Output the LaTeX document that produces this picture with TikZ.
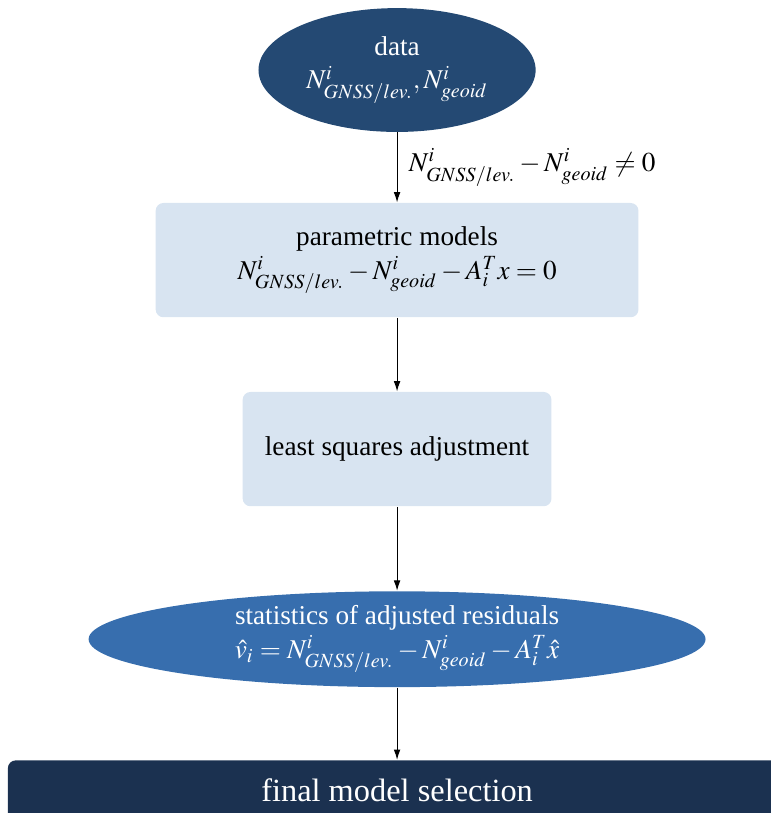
\documentclass[tikz,border=0pt]{standalone}
\usepackage{mathptmx}
\usepackage[no-math]{fontspec}
\setmainfont{Liberation Serif}
\usepackage{amsmath}
\usepackage{tikz}
\usetikzlibrary{shapes.geometric, arrows.meta, positioning}
\definecolor{mynavy}{RGB}{36,73,115}
\definecolor{mylight}{RGB}{216,228,241}
\definecolor{mymid}{RGB}{55,110,174}
\definecolor{mydeep}{RGB}{27,49,80}
\tikzset{
  dataell/.style={ellipse, fill=mynavy, text=white, inner sep=0pt,
    minimum width=3.76cm, minimum height=1.68cm, align=center,
    font=\fontsize{10.5}{13}\selectfont},
  procbox/.style={rectangle, fill=mylight, align=center,
    minimum height=1.55cm, rounded corners=3pt,
    font=\fontsize{10.5}{13}\selectfont},
  resell/.style={ellipse, fill=mymid, text=white, inner sep=0pt,
    minimum width=8.37cm, minimum height=1.30cm, align=center,
    font=\fontsize{10.5}{13}\selectfont},
  finalbox/.style={rectangle, fill=mydeep, text=white,
    font=\fontsize{12.5}{15}\selectfont,
    minimum width=10.56cm, minimum height=0.81cm, rounded corners=3pt},
  arrow/.style={-{Latex[length=4pt,width=2.6pt]}, thin, color=black}
}

\begin{document}
\begin{tikzpicture}
  \clip (0,0) rectangle (10.46,-11.03);

  % --- input ---
  \node[dataell] (data) at (5.387,-0.950)
    {data\\ $N^{i}_{GNSS/lev.},N^{i}_{geoid}$};

  % --- model and adjustment ---
  \node[procbox, minimum width=6.55cm, below=0.95cm of data] (param)
    {parametric models\\ $N^{i}_{GNSS/lev.}-N^{i}_{geoid}-A_i^{T}x=0$};
  \node[procbox, minimum width=4.19cm, below=1.0cm of param] (lsq)
    {least squares adjustment};

  % --- residuals and selection ---
  \node[resell, below=1.14cm of lsq] (resid)
    {statistics of adjusted residuals\\
     $\hat{v}_i=N^{i}_{GNSS/lev.}-N^{i}_{geoid}-A_i^{T}\hat{x}$};
  \node[finalbox, below=0.98cm of resid] (final)
    {final model selection};

  \draw[arrow] (data) -- node[right=1pt, font=\fontsize{10.5}{13}\selectfont]
    {$N^{i}_{GNSS/lev.}-N^{i}_{geoid}\neq 0$} (param);
  \draw[arrow] (param) -- (lsq);
  \draw[arrow] (lsq) -- (resid);
  \draw[arrow] (resid) -- (final);
\end{tikzpicture}
\end{document}
